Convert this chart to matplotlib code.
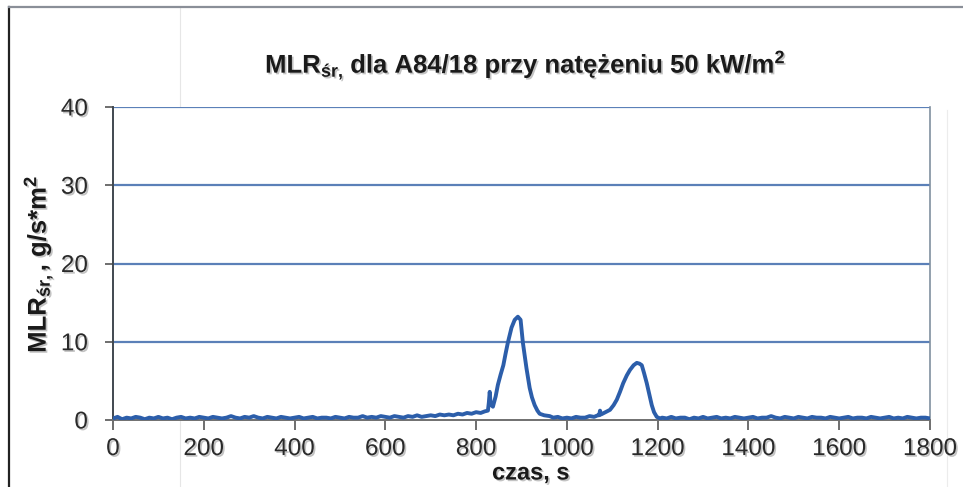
import numpy as np
import matplotlib
matplotlib.use("Agg")
import matplotlib.pyplot as plt
import matplotlib.patheffects as pe
from matplotlib.lines import Line2D

plt.rcParams['font.family'] = ['Liberation Sans', 'DejaVu Sans']
plt.rcParams['mathtext.fontset'] = 'custom'
plt.rcParams['mathtext.rm'] = 'Liberation Sans'
plt.rcParams['mathtext.it'] = 'Liberation Sans'
plt.rcParams['mathtext.bf'] = 'Liberation Sans:bold'
plt.rcParams['mathtext.default'] = 'regular'

# ---- data ----
base1_t = np.arange(0, 790, 10)
base1_v = [0.2, 0.4, 0.1, 0.3, 0.2, 0.4, 0.3, 0.1, 0.3, 0.2,
           0.4, 0.2, 0.3, 0.1, 0.3, 0.4, 0.2, 0.3, 0.2, 0.4,
           0.3, 0.2, 0.4, 0.3, 0.2, 0.3, 0.5, 0.3, 0.2, 0.4,
           0.3, 0.5, 0.3, 0.2, 0.4, 0.3, 0.2, 0.4, 0.3, 0.2,
           0.3, 0.4, 0.2, 0.3, 0.4, 0.2, 0.3, 0.3, 0.2, 0.4,
           0.3, 0.2, 0.4, 0.3, 0.3, 0.5, 0.3, 0.4, 0.3, 0.5,
           0.4, 0.3, 0.5, 0.4, 0.3, 0.5, 0.4, 0.6, 0.4, 0.5,
           0.6, 0.5, 0.7, 0.6, 0.7, 0.6, 0.8, 0.7, 0.9]

peaks_t = [790, 800, 810, 819, 826, 828, 830, 832, 837, 843, 848, 854, 860,
           865, 870, 878, 885, 892, 898, 903, 907, 911, 918, 923, 929, 935,
           940, 950, 962, 970, 980, 990, 1000, 1010, 1020, 1030, 1040, 1050,
           1060, 1068, 1071, 1073, 1075, 1085, 1095, 1103, 1110, 1117, 1124,
           1132, 1139, 1147, 1154, 1160, 1165, 1170, 1176, 1182, 1187, 1192,
           1198, 1205]
peaks_v = [0.8, 1.0, 0.9, 1.1, 1.2, 2.2, 3.6, 2.0, 1.7, 3.0, 4.5, 5.8, 7.0,
           8.5, 9.9, 11.8, 12.8, 13.2, 12.8, 9.9, 8.2, 6.6, 4.1, 2.9, 1.9, 1.2,
           0.8, 0.6, 0.5, 0.3, 0.4, 0.2, 0.3, 0.2, 0.4, 0.3, 0.3, 0.5,
           0.4, 0.6, 0.6, 1.2, 0.7, 1.0, 1.3, 1.9, 2.6, 3.6, 4.7,
           5.7, 6.4, 7.0, 7.3, 7.2, 7.0, 6.0, 4.7, 3.2, 1.9, 1.0,
           0.4, 0.2]

base2_t = np.arange(1210, 1810, 10)
base2_v = [0.3, 0.2, 0.4, 0.2, 0.3, 0.3, 0.1, 0.3, 0.2, 0.4,
           0.2, 0.3, 0.4, 0.2, 0.3, 0.2, 0.4, 0.3, 0.2, 0.3,
           0.4, 0.2, 0.3, 0.3, 0.5, 0.3, 0.2, 0.4, 0.3, 0.2,
           0.4, 0.3, 0.2, 0.4, 0.3, 0.3, 0.2, 0.4, 0.3, 0.2,
           0.3, 0.4, 0.2, 0.3, 0.3, 0.2, 0.4, 0.3, 0.2, 0.3,
           0.4, 0.2, 0.3, 0.2, 0.4, 0.3, 0.2, 0.3, 0.3, 0.2]

x_ticks = [0, 200, 400, 600, 800, 1000, 1200, 1400, 1600, 1800]
y_ticks = [0, 10, 20, 30, 40]

title = r"MLR$_{śr,}\,$dla A84/18 przy natężeniu 50 kW/m$^2$"
ylabel = "MLR$_{śr,}$, g/s*m$^2$"
xlabel = "czas, s"

t = np.concatenate([base1_t, peaks_t, base2_t])
v = np.concatenate([base1_v, peaks_v, base2_v])

# ---- figure ----
W, H = 963, 487
fig = plt.figure(figsize=(W / 100, H / 100), dpi=100)
fig.patch.set_facecolor('white')

ax = fig.add_axes([113 / W, 1 - 420 / H, (930 - 113) / W, (420 - 107) / H])
ax.set_xlim(0, 1800)
ax.set_ylim(0, 40)

grid_c = '#5b80b8'
for yv in y_ticks[1:]:
    ax.axhline(yv, color=grid_c, lw=1.6, zorder=1)

ax.plot(t, v, color='#2c5eaa', lw=2.8, zorder=3, solid_joinstyle='round')

ax.spines['top'].set_visible(False)
ax.spines['left'].set_color('#404850')
ax.spines['left'].set_linewidth(1.4)
ax.spines['bottom'].set_color('#707070')
ax.spines['bottom'].set_linewidth(1.4)
ax.spines['right'].set_color('#8090a0')
ax.spines['right'].set_linewidth(1.2)

shadow = [pe.withSimplePatchShadow(offset=(1.2, -1.2), shadow_rgbFace='#888888', alpha=0.5)]

ax.set_xticks(x_ticks)
ax.set_yticks(y_ticks)
ax.set_xticklabels([str(x) for x in x_ticks])
ax.set_yticklabels([str(y) for y in y_ticks])
ax.tick_params(axis='x', direction='out', length=7, width=1.2, color='#555555',
               labelsize=17.5, labelcolor='#2a2a2a', pad=6)
ax.tick_params(axis='y', direction='out', length=6, width=1.2, color='#555555',
               labelsize=17.5, labelcolor='#2a2a2a', pad=12)
for lab in ax.get_xticklabels() + ax.get_yticklabels():
    lab.set_path_effects(shadow)

fig.text(526 / W, 1 - 65 / H, title, ha='center', va='center',
         fontsize=18.5, fontweight='bold', color='#1a1a1a', path_effects=shadow)
fig.text(38 / W, 1 - 264 / H, ylabel, ha='center', va='center', rotation=90,
         fontsize=18.5, fontweight='bold', color='#1a1a1a', path_effects=shadow)
fig.text(531 / W, 1 - 473 / H, xlabel, ha='center', va='center',
         fontsize=17, fontweight='bold', color='#1a1a1a', path_effects=shadow)

# outer frame of the scanned chart
fig.add_artist(Line2D([9 / W, 9 / W], [0, 1 - 7 / H], transform=fig.transFigure,
                      color='#222222', lw=1.6))
fig.add_artist(Line2D([9 / W, 1], [1 - 7 / H, 1 - 7 / H], transform=fig.transFigure,
                      color='#8a8f98', lw=1.6))
fig.add_artist(Line2D([180 / W, 180 / W], [0, 1 - 7 / H], transform=fig.transFigure,
                      color='#e6e6e6', lw=0.8, zorder=0))
fig.add_artist(Line2D([947 / W, 947 / W], [0, 1 - 110 / H], transform=fig.transFigure,
                      color='#ececec', lw=0.8, zorder=0))

fig.savefig('out.png', dpi=100)
